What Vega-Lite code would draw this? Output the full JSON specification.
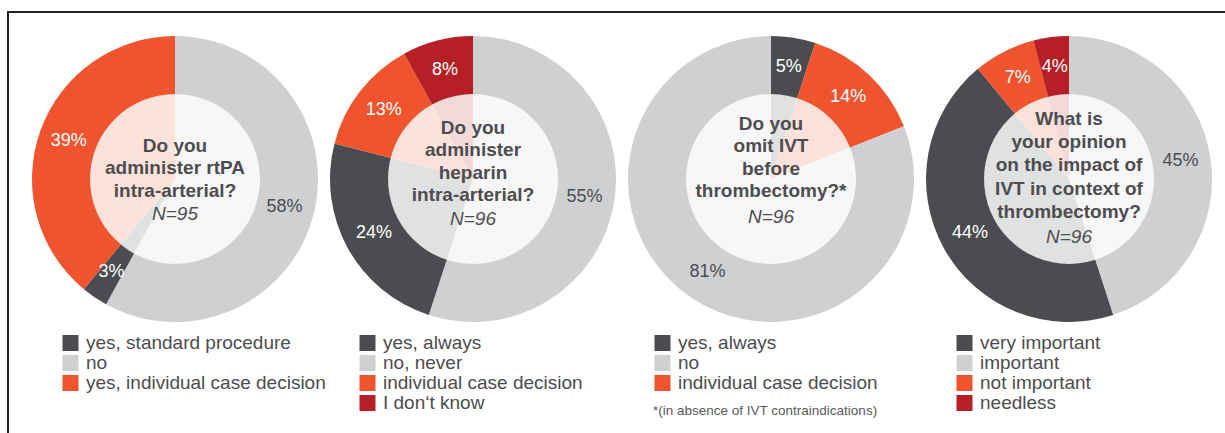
{
  "$schema": "https://vega.github.io/schema/vega-lite/v6.json",
  "width": 1225,
  "height": 433,
  "autosize": {"type": "fit", "contains": "padding"},
  "padding": {"left": 8, "top": 12, "right": -40, "bottom": -40},
  "background": "white",
  "config": {
    "font": "Liberation Sans",
    "view": {"stroke": "#231f20", "strokeWidth": 2, "strokeDash": [1718, 1718], "strokeDashOffset": 461},
    "legend": {
      "orient": "none",
      "symbolType": "square",
      "symbolSize": 256,
      "symbolStrokeWidth": 0,
      "labelFontSize": 19,
      "labelColor": "#4d4d4f",
      "labelOffset": 6,
      "labelLimit": 400,
      "rowPadding": 0,
      "padding": 0
    }
  },
  "datasets": {
    "q1": [
      {"cat": "no", "share": 0.58, "ord": 1},
      {"cat": "yes, standard procedure", "share": 0.03, "ord": 2},
      {"cat": "yes, individual case decision", "share": 0.39, "ord": 3}
    ],
    "q2": [
      {"cat": "no, never", "share": 0.55, "ord": 1},
      {"cat": "yes, always", "share": 0.24, "ord": 2},
      {"cat": "individual case decision", "share": 0.13, "ord": 3},
      {"cat": "I don‘t know", "share": 0.08, "ord": 4}
    ],
    "q3": [
      {"cat": "yes, always", "share": 0.05, "ord": 1},
      {"cat": "individual case decision", "share": 0.14, "ord": 2},
      {"cat": "no", "share": 0.81, "ord": 3}
    ],
    "q4": [
      {"cat": "important", "share": 0.45, "ord": 1},
      {"cat": "very important", "share": 0.44, "ord": 2},
      {"cat": "not important", "share": 0.07, "ord": 3},
      {"cat": "needless", "share": 0.04, "ord": 4}
    ]
  },
  "encoding": {
    "y": {"datum": 0, "type": "quantitative", "scale": {"domain": [-1.7605, 1], "nice": false, "zero": false}, "axis": null}
  },
  "layer": [
    {
      "encoding": {"x": {"datum": 1, "type": "quantitative", "scale": {"domain": [0.4396, 4.6577], "nice": false, "zero": false}, "axis": null}},
      "layer": [
        {
          "data": {"name": "q1"},
          "layer": [
            {
              "mark": {"type": "arc", "outerRadius": 143, "innerRadius": 0},
              "encoding": {
                "theta": {"field": "share", "type": "quantitative", "stack": true},
                "order": {"field": "ord", "type": "quantitative"},
                "color": {
                  "field": "cat", "type": "nominal",
                  "scale": {"domain": ["yes, standard procedure", "no", "yes, individual case decision"], "range": ["#4b4c50", "#cfd0d2", "#ef542e"]},
                  "legend": {"title": null, "legendX": 53, "legendY": 321.5}
                }
              }
            },
            {
              "mark": {"type": "text", "radius": 113, "fontSize": 18},
              "encoding": {
                "theta": {"field": "share", "type": "quantitative", "stack": true},
                "order": {"field": "ord", "type": "quantitative"},
                "detail": {"field": "cat"},
                "text": {"field": "share", "type": "quantitative", "format": ".0%"},
                "color": {"condition": {"test": "datum.cat === 'no'", "value": "#4d4d4f"}, "value": "white"}
              }
            }
          ]
        },
        {
          "data": {"values": [{"title": "Do you\nadminister rtPA\nintra-arterial?", "n": "N=95"}]},
          "layer": [
            {"mark": {"type": "arc", "outerRadius": 85, "innerRadius": 0, "theta": 0, "theta2": 6.2832, "fill": "white", "opacity": 0.83}},
            {"mark": {"type": "text", "fontSize": 19, "fontWeight": "bold", "lineBreak": "\n", "lineHeight": 22.5, "baseline": "alphabetic", "dy": -27, "color": "#4d4d4f"}, "encoding": {"text": {"field": "title"}}},
            {"mark": {"type": "text", "fontSize": 19, "fontStyle": "italic", "baseline": "alphabetic", "dy": 41, "color": "#4d4d4f"}, "encoding": {"text": {"field": "n"}}}
          ]
        }
      ]
    },
    {
      "encoding": {"x": {"datum": 2, "type": "quantitative", "scale": {"domain": [0.4396, 4.6577], "nice": false, "zero": false}, "axis": null}},
      "layer": [
        {
          "data": {"name": "q2"},
          "layer": [
            {
              "mark": {"type": "arc", "outerRadius": 143, "innerRadius": 0},
              "encoding": {
                "theta": {"field": "share", "type": "quantitative", "stack": true},
                "order": {"field": "ord", "type": "quantitative"},
                "color": {
                  "field": "cat", "type": "nominal",
                  "scale": {"domain": ["yes, always", "no, never", "individual case decision", "I don‘t know"], "range": ["#4b4c50", "#cfd0d2", "#ef542e", "#b61f25"]},
                  "legend": {"title": null, "legendX": 350, "legendY": 321.5}
                }
              }
            },
            {
              "mark": {"type": "text", "radius": 113, "fontSize": 18},
              "encoding": {
                "theta": {"field": "share", "type": "quantitative", "stack": true},
                "order": {"field": "ord", "type": "quantitative"},
                "detail": {"field": "cat"},
                "text": {"field": "share", "type": "quantitative", "format": ".0%"},
                "color": {"condition": {"test": "datum.cat === 'no, never'", "value": "#4d4d4f"}, "value": "white"}
              }
            }
          ]
        },
        {
          "data": {"values": [{"title": "Do you\nadminister\nheparin\nintra-arterial?", "n": "N=96"}]},
          "layer": [
            {"mark": {"type": "arc", "outerRadius": 85, "innerRadius": 0, "theta": 0, "theta2": 6.2832, "fill": "white", "opacity": 0.83}},
            {"mark": {"type": "text", "fontSize": 19, "fontWeight": "bold", "lineBreak": "\n", "lineHeight": 22.5, "baseline": "alphabetic", "dy": -45, "color": "#4d4d4f"}, "encoding": {"text": {"field": "title"}}},
            {"mark": {"type": "text", "fontSize": 19, "fontStyle": "italic", "baseline": "alphabetic", "dy": 46, "color": "#4d4d4f"}, "encoding": {"text": {"field": "n"}}}
          ]
        }
      ]
    },
    {
      "encoding": {"x": {"datum": 3, "type": "quantitative", "scale": {"domain": [0.4396, 4.6577], "nice": false, "zero": false}, "axis": null}},
      "layer": [
        {
          "data": {"name": "q3"},
          "layer": [
            {
              "mark": {"type": "arc", "outerRadius": 143, "innerRadius": 0},
              "encoding": {
                "theta": {"field": "share", "type": "quantitative", "stack": true},
                "order": {"field": "ord", "type": "quantitative"},
                "color": {
                  "field": "cat", "type": "nominal",
                  "scale": {"domain": ["yes, always", "no", "individual case decision"], "range": ["#4b4c50", "#cfd0d2", "#ef542e"]},
                  "legend": {
                    "title": "*(in absence of IVT contraindications)",
                    "titleOrient": "bottom", "titleAnchor": "start", "titleBaseline": "top",
                    "titleFontSize": 13.5, "titleFontWeight": "normal", "titleColor": "#58595b",
                    "titlePadding": 10, "titleLimit": 400,
                    "legendX": 645, "legendY": 321.5
                  }
                }
              }
            },
            {
              "mark": {"type": "text", "radius": 113, "fontSize": 18},
              "encoding": {
                "theta": {"field": "share", "type": "quantitative", "stack": true},
                "order": {"field": "ord", "type": "quantitative"},
                "detail": {"field": "cat"},
                "text": {"field": "share", "type": "quantitative", "format": ".0%"},
                "color": {"condition": {"test": "datum.cat === 'no'", "value": "#4d4d4f"}, "value": "white"}
              }
            }
          ]
        },
        {
          "data": {"values": [{"title": "Do you\nomit IVT\nbefore\nthrombectomy?*", "n": "N=96"}]},
          "layer": [
            {"mark": {"type": "arc", "outerRadius": 85, "innerRadius": 0, "theta": 0, "theta2": 6.2832, "fill": "white", "opacity": 0.83}},
            {"mark": {"type": "text", "fontSize": 19, "fontWeight": "bold", "lineBreak": "\n", "lineHeight": 22.5, "baseline": "alphabetic", "dy": -49, "color": "#4d4d4f"}, "encoding": {"text": {"field": "title"}}},
            {"mark": {"type": "text", "fontSize": 19, "fontStyle": "italic", "baseline": "alphabetic", "dy": 44, "color": "#4d4d4f"}, "encoding": {"text": {"field": "n"}}}
          ]
        }
      ]
    },
    {
      "encoding": {"x": {"datum": 4, "type": "quantitative", "scale": {"domain": [0.4396, 4.6577], "nice": false, "zero": false}, "axis": null}},
      "layer": [
        {
          "data": {"name": "q4"},
          "layer": [
            {
              "mark": {"type": "arc", "outerRadius": 143, "innerRadius": 0},
              "encoding": {
                "theta": {"field": "share", "type": "quantitative", "stack": true},
                "order": {"field": "ord", "type": "quantitative"},
                "color": {
                  "field": "cat", "type": "nominal",
                  "scale": {"domain": ["very important", "important", "not important", "needless"], "range": ["#4b4c50", "#cfd0d2", "#ef542e", "#b61f25"]},
                  "legend": {"title": null, "legendX": 947, "legendY": 321.5}
                }
              }
            },
            {
              "mark": {"type": "text", "radius": 113, "fontSize": 18},
              "encoding": {
                "theta": {"field": "share", "type": "quantitative", "stack": true},
                "order": {"field": "ord", "type": "quantitative"},
                "detail": {"field": "cat"},
                "text": {"field": "share", "type": "quantitative", "format": ".0%"},
                "color": {"condition": {"test": "datum.cat === 'important'", "value": "#4d4d4f"}, "value": "white"}
              }
            }
          ]
        },
        {
          "data": {"values": [{"title": "What is\nyour opinion\non the impact of\nIVT in context of\nthrombectomy?", "n": "N=96"}]},
          "layer": [
            {"mark": {"type": "arc", "outerRadius": 85, "innerRadius": 0, "theta": 0, "theta2": 6.2832, "fill": "white", "opacity": 0.83}},
            {"mark": {"type": "text", "fontSize": 19, "fontWeight": "bold", "lineBreak": "\n", "lineHeight": 23.2, "baseline": "alphabetic", "dy": -54, "color": "#4d4d4f"}, "encoding": {"text": {"field": "title"}}},
            {"mark": {"type": "text", "fontSize": 19, "fontStyle": "italic", "baseline": "alphabetic", "dy": 64, "color": "#4d4d4f"}, "encoding": {"text": {"field": "n"}}}
          ]
        }
      ]
    }
  ],
  "resolve": {"scale": {"color": "independent"}}
}
